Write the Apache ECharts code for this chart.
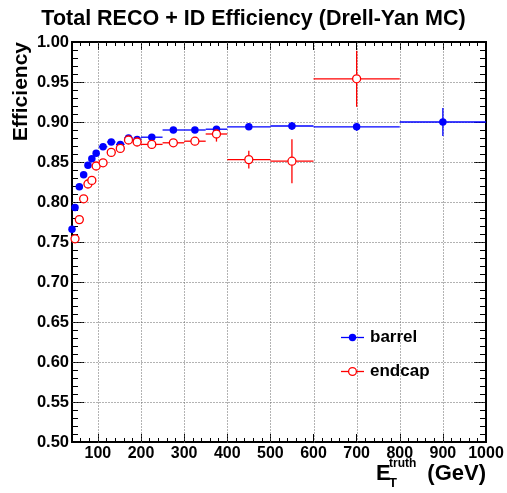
<!DOCTYPE html>
<html>
<head>
<meta charset="utf-8">
<script src="https://cdn.jsdelivr.net/npm/echarts@6/dist/echarts.min.js"></script>
<style>html,body{margin:0;padding:0;background:#fff}#c{width:507px;height:493px}</style>
</head>
<body>
<div id="c"></div>
<script>
// ---- data ----
const barrelX    = [40, 47, 57, 67, 77, 86, 96, 112, 131, 152, 171, 191, 225, 275, 325, 375, 450, 550, 700, 900];
const barrelXErr = [2.5, 2.5, 5, 5, 5, 5, 5, 10, 10, 10, 10, 10, 25, 25, 25, 25, 50, 50, 100, 100];
const barrelY    = [0.766, 0.793, 0.819, 0.834, 0.846, 0.854, 0.861, 0.869, 0.875, 0.872, 0.880, 0.878, 0.881, 0.890, 0.890, 0.891, 0.894, 0.895, 0.894, 0.900];
const barrelYErr = [0.003, 0.003, 0.003, 0.003, 0.003, 0.003, 0.003, 0.003, 0.003, 0.003, 0.003, 0.003, 0.003, 0.003, 0.003, 0.003, 0.004, 0.005, 0.005, 0.0175];

const endcapX    = [47, 57, 67, 77, 86, 96, 112, 131, 152, 171, 191, 225, 275, 325, 375, 450, 550, 700];
const endcapXErr = [2.5, 5, 5, 5, 5, 5, 10, 10, 10, 10, 10, 25, 25, 25, 25, 50, 50, 100];
const endcapY    = [0.754, 0.778, 0.804, 0.8225, 0.827, 0.845, 0.849, 0.862, 0.867, 0.8775, 0.875, 0.872, 0.874, 0.876, 0.885, 0.853, 0.851, 0.954];
const endcapYErr = [0.004, 0.004, 0.004, 0.004, 0.004, 0.004, 0.004, 0.004, 0.004, 0.004, 0.004, 0.004, 0.004, 0.005, 0.0095, 0.011, 0.0275, 0.035];

const xMajorTicks = [100, 200, 300, 400, 500, 600, 700, 800, 900, 1000];
const xMinorTicks = [60, 80, 120, 140, 160, 180, 220, 240, 260, 280, 320, 340, 360, 380, 420, 440, 460, 480,
                     520, 540, 560, 580, 620, 640, 660, 680, 720, 740, 760, 780, 820, 840, 860, 880, 920, 940, 960, 980];
const yGridValues = [0.55, 0.60, 0.65, 0.70, 0.75, 0.80, 0.85, 0.90, 0.95];
const xRange = [40, 1000];
const yRange = [0.5, 1.0];
const yStep = 0.05;

const titleText = 'Total RECO + ID Efficiency (Drell-Yan MC)';
const yTitle = 'Efficiency';
const seriesNames = ['barrel', 'endcap'];

// ---- build ----
const FONT = '"Liberation Sans", Arial, Helvetica, sans-serif';
const BLUE = '#0000ff', RED = '#ff0000';
const GRIDCOLOR = '#666';

function errData(xs, xe, ys, ye) {
  return xs.map((x, i) => [x, ys[i], x - xe[i], x + xe[i], ys[i] - ye[i], ys[i] + ye[i]]);
}
function errRender(color) {
  return function (params, api) {
    const x = api.value(0), y = api.value(1);
    const pL = api.coord([api.value(2), y]), pR = api.coord([api.value(3), y]);
    const pB = api.coord([x, api.value(4)]), pT = api.coord([x, api.value(5)]);
    return { type: 'group', children: [
      { type: 'line', shape: { x1: pL[0], y1: pL[1], x2: pR[0], y2: pR[1] }, style: { stroke: color, lineWidth: 1.3 } },
      { type: 'line', shape: { x1: pB[0], y1: pB[1], x2: pT[0], y2: pT[1] }, style: { stroke: color, lineWidth: 1.3 } }
    ]};
  };
}
// dotted grid lines through the library's coordinate system
function gridRender(params, api) {
  const v = api.value(0), kind = api.value(1);
  let p1, p2;
  if (kind === 0) { p1 = api.coord([v, yRange[0]]); p2 = api.coord([v, yRange[1]]); }
  else { p1 = api.coord([xRange[0], v]); p2 = api.coord([xRange[1], v]); }
  const x1 = Math.round(p1[0]) + 0.5, x2 = Math.round(p2[0]) + 0.5;
  const y1 = Math.round(p1[1]) + 0.5, y2 = Math.round(p2[1]) + 0.5;
  return { type: 'line', silent: true,
    shape: kind === 0 ? { x1: x1, y1: y1, x2: x1, y2: y2 } : { x1: x1, y1: y1, x2: x2, y2: y1 },
    style: { stroke: GRIDCOLOR, lineWidth: 1, lineDash: [1, 2] } };
}

const frameLine = { show: true, onZero: false, lineStyle: { color: '#000', width: 2 } };

function xAx(pos, major, showLabel) {
  return {
    type: 'value', position: pos, min: xRange[0], max: xRange[1],
    axisLine: frameLine,
    axisTick: { show: true, inside: true, length: major ? 8 : 4, customValues: major ? xMajorTicks : xMinorTicks,
                lineStyle: { color: '#000', width: 1 } },
    axisLabel: { show: showLabel, customValues: xMajorTicks, color: '#000', fontSize: 16, fontWeight: 'bold',
                 fontFamily: FONT, margin: 4, formatter: v => String(v) },
    splitLine: { show: false }
  };
}
function yAx(pos, showLabel) {
  return {
    type: 'value', position: pos, min: yRange[0], max: yRange[1], interval: yStep,
    axisLine: frameLine,
    axisTick: { show: true, inside: true, length: 12, lineStyle: { color: '#000', width: 1 } },
    minorTick: { show: true, splitNumber: 5, length: 6, lineStyle: { color: '#000', width: 1 } },
    axisLabel: { show: showLabel, color: '#000', fontSize: 16.5, fontWeight: 'bold', fontFamily: FONT, margin: 3,
                 formatter: v => v.toFixed(2) },
    splitLine: { show: false }
  };
}

const gridData = xMajorTicks.filter(v => v < xRange[1]).map(v => [v, 0])
  .concat(yGridValues.map(v => [v, 1]));

const option = {
  animation: false,
  backgroundColor: '#fff',
  title: { text: titleText, left: 'center', top: 3,
           textStyle: { fontSize: 21.5, fontWeight: 'bold', color: '#000', fontFamily: FONT } },
  grid: { left: 72, right: 21, top: 42, bottom: 51, containLabel: false },
  xAxis: [xAx('bottom', true, true), xAx('bottom', false, false),
          xAx('top', true, false), xAx('top', false, false)],
  yAxis: [yAx('left', true), yAx('right', false)],
  series: [
    { name: 'grid', type: 'custom', renderItem: gridRender, silent: true, z: 1, clip: false,
      data: gridData, encode: { x: -1, y: -1 } },
    { name: seriesNames[0] + '_err', type: 'custom', renderItem: errRender(BLUE), clip: true, z: 2,
      data: errData(barrelX, barrelXErr, barrelY, barrelYErr), encode: { x: 0, y: 1 } },
    { name: seriesNames[1] + '_err', type: 'custom', renderItem: errRender(RED), clip: true, z: 2,
      data: errData(endcapX, endcapXErr, endcapY, endcapYErr), encode: { x: 0, y: 1 } },
    { name: seriesNames[0], type: 'scatter', symbol: 'circle', symbolSize: 7.5, z: 3,
      itemStyle: { color: BLUE, opacity: 1 },
      data: barrelX.map((x, i) => [x, barrelY[i]]) },
    { name: seriesNames[1], type: 'scatter', symbol: 'circle', symbolSize: 8, z: 3,
      itemStyle: { color: '#fff', borderColor: RED, borderWidth: 1.3, opacity: 1 },
      data: endcapX.map((x, i) => [x, endcapY[i]]) }
  ],
  graphic: [
    // y axis title
    { type: 'text', x: 21, y: 42, rotation: Math.PI / 2,
      style: { text: yTitle, font: 'bold 21px ' + FONT, fill: '#000', align: 'right', verticalAlign: 'middle' } },
    // x axis title E_T^truth (GeV)
    { type: 'text', x: 376, y: 473.5,
      style: { text: 'E', font: 'bold 22px ' + FONT, fill: '#000', align: 'left', verticalAlign: 'middle' } },
    { type: 'text', x: 389, y: 464,
      style: { text: 'truth', font: 'bold 12px ' + FONT, fill: '#000', align: 'left', verticalAlign: 'middle' } },
    { type: 'text', x: 389, y: 483,
      style: { text: 'T', font: 'bold 13px ' + FONT, fill: '#000', align: 'left', verticalAlign: 'middle' } },
    { type: 'text', x: 486, y: 473.5,
      style: { text: '(GeV)', font: 'bold 22px ' + FONT, fill: '#000', align: 'right', verticalAlign: 'middle' } },
    // legend
    { type: 'line', shape: { x1: 341, y1: 337.5, x2: 364, y2: 337.5 }, style: { stroke: BLUE, lineWidth: 1.3 } },
    { type: 'circle', shape: { cx: 352.5, cy: 337.5, r: 3.7 }, style: { fill: BLUE } },
    { type: 'text', x: 370, y: 337.5,
      style: { text: seriesNames[0], font: 'bold 17px ' + FONT, fill: '#000', align: 'left', verticalAlign: 'middle' } },
    { type: 'line', shape: { x1: 341, y1: 371.5, x2: 364, y2: 371.5 }, style: { stroke: RED, lineWidth: 1.3 } },
    { type: 'circle', shape: { cx: 352.5, cy: 371.5, r: 3.9 }, style: { fill: '#fff', stroke: RED, lineWidth: 1.3 } },
    { type: 'text', x: 370, y: 371.5,
      style: { text: seriesNames[1], font: 'bold 17px ' + FONT, fill: '#000', align: 'left', verticalAlign: 'middle' } }
  ]
};

const chart = echarts.init(document.getElementById('c'), null, { renderer: 'canvas' });
chart.setOption(option);
</script>
</body>
</html>
